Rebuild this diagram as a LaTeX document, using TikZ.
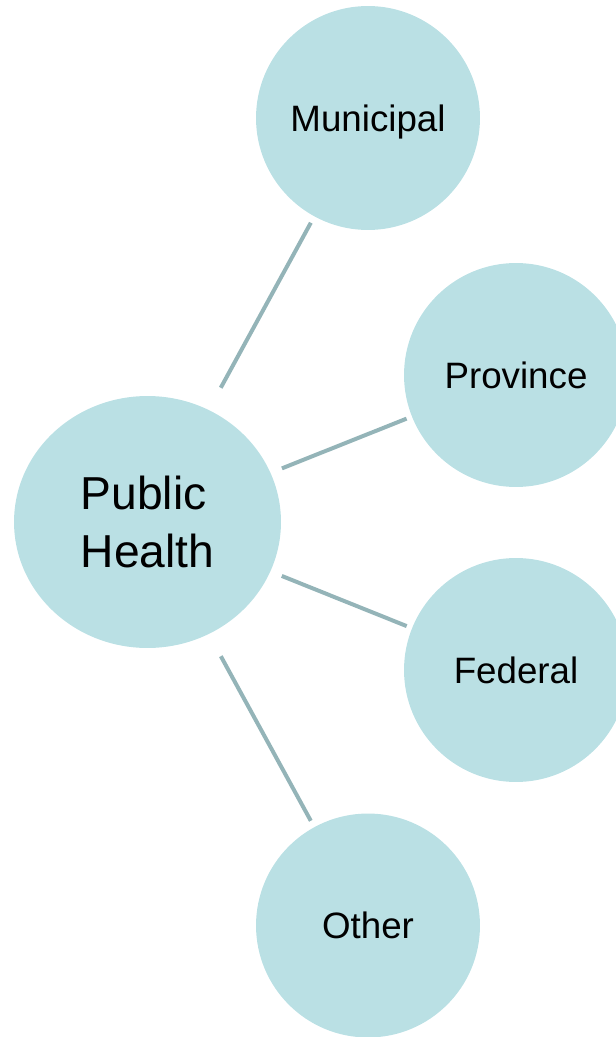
\documentclass[tikz,border=0pt]{standalone}
\usepackage{fontspec}
\setmainfont{Liberation Sans}
\usetikzlibrary{shapes.geometric}
\definecolor{bubblefill}{RGB}{186,224,228}
\definecolor{linkline}{RGB}{148,180,184}
\tikzset{
	hub/.style={
			ellipse, fill=bubblefill, inner sep=0pt,
			minimum width=5.34cm, minimum height=5.04cm,
			align=left, font=\fontsize{26.3}{32.9}\selectfont
		},
	bubble/.style={
			circle, fill=bubblefill, inner sep=0pt, minimum size=4.48cm,
			text depth=0pt, font=\fontsize{20.9}{25}\selectfont
		},
	link/.style={draw=linkline, line width=2.27pt}
}

\begin{document}
\begin{tikzpicture}[x=0.02cm, y=-0.02cm]

			% Fix the size of the page
			\useasboundingbox (0,0) rectangle (615,1037);

			% Draw the centre and the four outer circles
			\node[hub] (health) at (147.5,522) {Public\\Health};
			\node[bubble] (municipal) at (368,118) {Municipal};
			\node[bubble] (province) at (516,375) {Province};
			\node[bubble] (federal) at (516,670) {Federal};
			\node[bubble] (other) at (368,925.5) {Other};

			% Draw the links from the centre
			\draw[link, shorten <=0.5cm, shorten >=0.14cm] (health) -- (municipal);
			\draw[link, shorten <=0.24cm, shorten >=0.11cm] (health) -- (province);
			\draw[link, shorten <=0.24cm, shorten >=0.11cm] (health) -- (federal);
			\draw[link, shorten <=0.5cm, shorten >=0.14cm] (health) -- (other);

		\end{tikzpicture}
\end{document}
